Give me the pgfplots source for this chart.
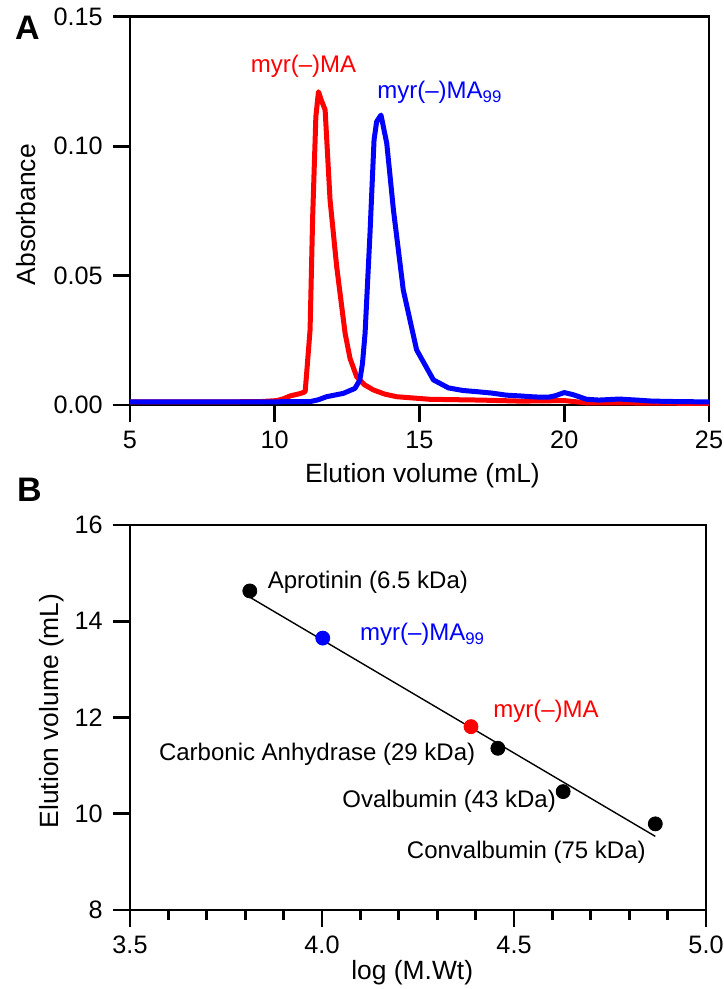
\documentclass[border=0pt]{standalone}
\usepackage{fontspec}
\setmainfont{Liberation Sans}
\usepackage{pgfplots}
\pgfplotsset{compat=1.18}
\definecolor{pred}{RGB}{255,0,0}
\definecolor{pblue}{RGB}{0,0,255}
\begin{document}
\begin{tikzpicture}
\pgfplotsset{
  myaxis/.style={
    scale only axis,
    clip=false,
    axis line style={line width=1.4bp, black},
    tick style={line width=1.4bp, black},
    tick align=outside,
    tick pos=left,
    major tick length=8.5bp,
    minor tick length=5bp,
    /pgf/number format/assume math mode=true,
    tick label style={font=\fontsize{12.6bp}{15bp}\selectfont, inner sep=0pt},
    xticklabel style={anchor=north, yshift=-4.5bp},
    yticklabel style={anchor=east, xshift=-5bp},
    label style={font=\fontsize{13.2bp}{16bp}\selectfont},
  }
}
% ---------------- Panel A ----------------
\begin{axis}[myaxis,
  at={(65bp,292bp)}, anchor=south west,
  width=289.5bp, height=194.15bp,
  xmin=5, xmax=25, ymin=0, ymax=0.15,
  xtick={5,10,15,20,25},
  ytick={0,0.05,0.10,0.15},
  yticklabels={0.00,0.05,0.10,0.15},
  xlabel={Elution volume (mL)},
  ylabel={Absorbance},
  xlabel style={at={(axis description cs:0.505,-0.183)}, anchor=center},
  ylabel style={at={(axis description cs:-0.1796,0.49)}, anchor=center},
]
\addplot[pred, line width=2.5bp, line join=round] coordinates {
(5,0.0012) (8,0.0012) (9.5,0.0013) (10.07,0.0017) (10.3,0.0024) (10.53,0.0035)
(10.87,0.0044) (11.05,0.0051) (11.1,0.012) (11.22,0.029) (11.31,0.0728) (11.42,0.1114)
(11.51,0.121) (11.6,0.118) (11.74,0.114) (11.91,0.0792) (12.14,0.0534) (12.43,0.0277)
(12.6,0.018) (12.83,0.0109) (13.1,0.0078) (13.41,0.0058) (13.8,0.0042) (14.21,0.0032)
(15.36,0.0022) (17.09,0.0019) (18.5,0.0015) (20,0.0017) (20.8,0.0008) (22,0.0008) (25,0.0006)
};
\addplot[pblue, line width=2.5bp, line join=round] coordinates {
(5,0.0012) (9,0.0012) (11.22,0.0013) (11.5,0.0020) (11.79,0.0032) (12.37,0.0045)
(12.77,0.0064) (12.94,0.0097) (13.03,0.016) (13.12,0.0277) (13.29,0.0663) (13.43,0.1024)
(13.52,0.1095) (13.67,0.112) (13.87,0.101) (14.10,0.0753) (14.44,0.0444) (14.90,0.0213)
(15.48,0.0097) (16.0,0.0066) (16.5,0.0056) (17.03,0.0051) (17.5,0.0046) (18.0,0.0038)
(18.47,0.0035) (19.0,0.0031) (19.45,0.0030) (19.7,0.0036) (20.0,0.0048) (20.3,0.0040)
(20.77,0.0022) (21.2,0.0019) (21.9,0.0023) (22.5,0.0019) (23.04,0.0015) (24,0.0013) (25,0.0012)
};
\node[text=pred, anchor=base west, inner sep=0pt, font=\fontsize{12bp}{14bp}\selectfont]
  at (axis cs:9.16,0.1283) {myr(–)MA};
\node[text=pblue, anchor=base west, inner sep=0pt, font=\fontsize{12bp}{14bp}\selectfont]
  at (axis cs:13.53,0.1184) {myr(–)MA\textsubscript{99}};
\end{axis}
% ---------------- Panel B ----------------
\begin{axis}[myaxis,
  at={(65bp,39.5bp)}, anchor=south west,
  width=288bp, height=192.5bp,
  xmin=3.5, xmax=5.0, ymin=8, ymax=16,
  xtick={3.5,4.0,4.5,5.0},
  xticklabels={3.5,4.0,4.5,5.0},
  minor x tick num=4,
  ytick={8,10,12,14,16},
  xlabel={log (M.Wt)},
  ylabel={Elution volume (mL)},
  xlabel style={at={(axis description cs:0.49,-0.1636)}, anchor=center},
  ylabel style={at={(axis description cs:-0.1354,0.517)}, anchor=center},
]
\addplot[black, line width=0.7bp] coordinates {(3.812,14.50) (4.868,9.53)};
\addplot[only marks, mark=*, mark size=3.5bp, black] coordinates {
(3.812,14.63) (4.458,11.36) (4.628,10.46) (4.868,9.79)
};
\addplot[only marks, mark=*, mark size=3.5bp, pblue, mark options={fill=pblue, draw=pblue}] coordinates {(4.002,13.65)};
\addplot[only marks, mark=*, mark size=3.5bp, pred, mark options={fill=pred, draw=pred}] coordinates {(4.388,11.81)};
\begin{scope}[every node/.style={inner sep=0pt, font=\fontsize{12bp}{14bp}\selectfont}]
\node[anchor=base west] at (axis cs:3.858,14.68) {Aprotinin (6.5 kDa)};
\node[anchor=base west, text=pblue] at (axis cs:4.098,13.60) {myr(–)MA\textsubscript{99}};
\node[anchor=base west, text=pred] at (axis cs:4.445,12.01) {myr(–)MA};
\node[anchor=base east] at (axis cs:4.40,11.11) {Carbonic Anhydrase (29 kDa)};
\node[anchor=base east] at (axis cs:4.61,10.14) {Ovalbumin (43 kDa)};
\node[anchor=base east] at (axis cs:4.844,9.06) {Convalbumin (75 kDa)};
\end{scope}
\end{axis}
\node[font=\bfseries\fontsize{17bp}{20bp}\selectfont] at (13.75bp,480.75bp) {A};
\node[font=\bfseries\fontsize{17bp}{20bp}\selectfont] at (14.75bp,249.5bp) {B};
\pgfresetboundingbox
\path[use as bounding box] (0,0) rectangle (362bp,494.5bp);
\end{tikzpicture}
\end{document}
